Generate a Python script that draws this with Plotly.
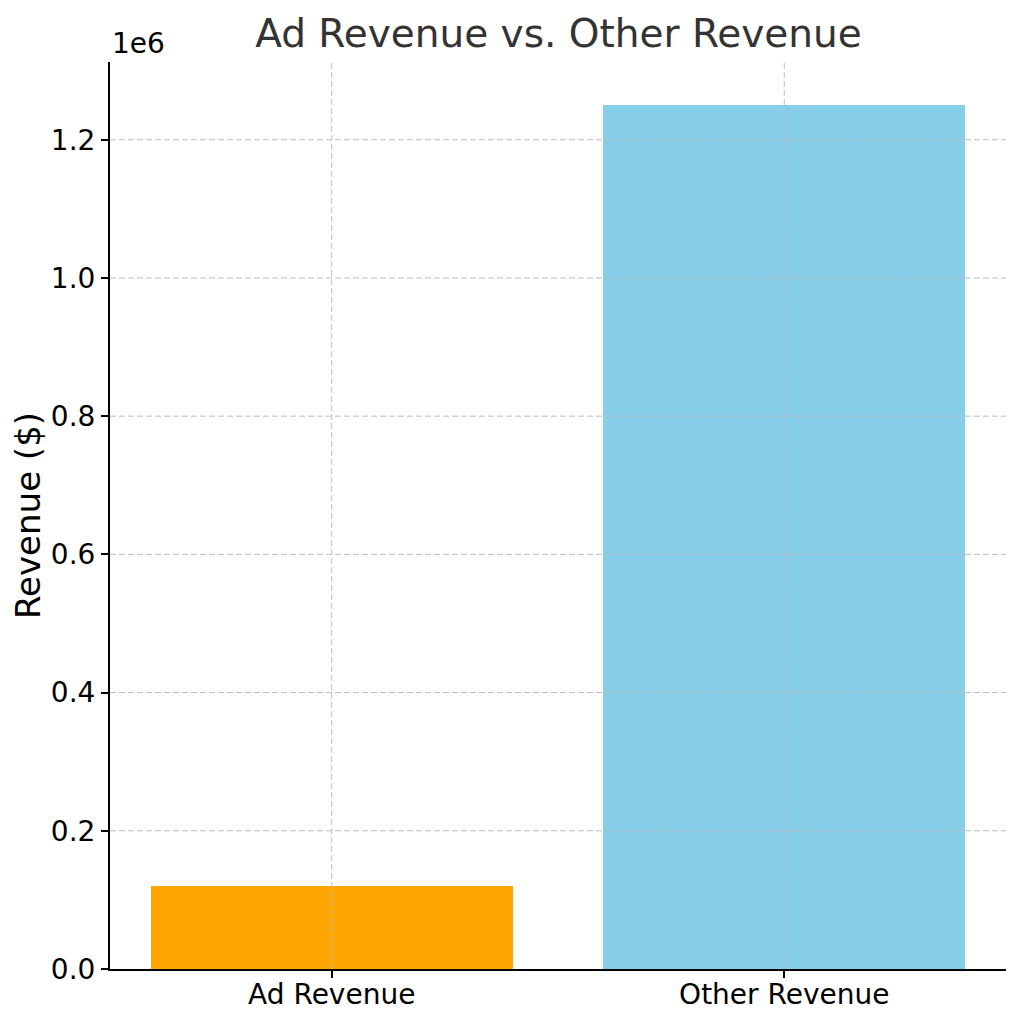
import plotly.graph_objects as go

# revenue split
categories = ["Ad Revenue", "Other Revenue"]
revenue = [120000, 1250000]
bar_colors = ["orange", "skyblue"]

y_ticks = [0, 200000, 400000, 600000, 800000, 1000000, 1200000]
y_tick_labels = ["0.0", "0.2", "0.4", "0.6", "0.8", "1.0", "1.2"]

FONT = "DejaVu Sans"
GRID = "#bdbdbd"

fig = go.Figure()
fig.add_trace(go.Bar(x=list(range(len(categories))), y=revenue,
                     marker=dict(color=bar_colors, line=dict(width=0)),
                     width=0.8))

# matplotlib draws the grid on top of the bars, so use shapes for it
shapes = []
for i in range(len(categories)):
    shapes.append(dict(type="line", xref="x", yref="paper", x0=i, x1=i, y0=0, y1=1,
                       layer="above", line=dict(color=GRID, width=1, dash="6px,3px")))
for v in y_ticks[1:]:
    shapes.append(dict(type="line", xref="paper", yref="y", x0=0, x1=1, y0=v, y1=v,
                       layer="above", line=dict(color=GRID, width=1, dash="6px,3px")))

fig.update_layout(
    width=1024, height=1024,
    margin=dict(l=102, r=26, t=54, b=63),
    plot_bgcolor="white", paper_bgcolor="white",
    showlegend=False,
    font=dict(family=FONT, size=28, color="black"),
    title=dict(text="Ad Revenue vs. Other Revenue", x=0.5376, xanchor="center",
               y=0.9756, yanchor="middle", font=dict(size=39, color="#333333")),
    shapes=shapes,
    bargap=0,
)
fig.update_xaxes(
    range=[-0.49, 1.49], tickvals=list(range(len(categories))), ticktext=categories,
    showgrid=False, zeroline=False, showline=True, linecolor="black", linewidth=2,
    ticks="outside", ticklen=7, tickwidth=1.5, tickcolor="black", layer="above traces",
    ticklabelstandoff=-8,
)
fig.update_yaxes(
    range=[0, 1312500], tickvals=y_ticks, ticktext=y_tick_labels,
    showgrid=False, zeroline=False, showline=True, linecolor="black", linewidth=2,
    ticks="outside", ticklen=7, tickwidth=1.5, tickcolor="black",
    title=dict(text="Revenue ($)", standoff=5), layer="above traces",
)
fig.add_annotation(text="1e6", xref="paper", yref="paper", x=0, y=1,
                   xanchor="left", yanchor="bottom", showarrow=False,
                   font=dict(size=28, color="black"), yshift=0)

fig.write_html("out.html")
